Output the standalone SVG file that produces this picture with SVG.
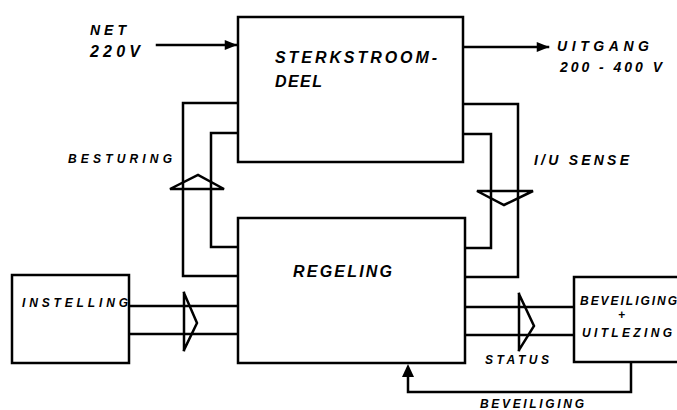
<svg xmlns="http://www.w3.org/2000/svg" width="677" height="410" viewBox="0 0 677 410">
<defs>
<style>
.ln{fill:none;stroke:#000;stroke-width:2.5;stroke-linejoin:miter;stroke-linecap:square}
.box{fill:#fff;stroke:#000;stroke-width:2.5}
.t{font-family:"Liberation Sans",Arial,sans-serif;font-weight:bold;font-style:italic;fill:#000}
.s{font-size:12px}
.m{font-size:14px}
.b{font-size:16px}
</style>
<marker id="ah" viewBox="0 0 10 10" refX="9" refY="5" markerWidth="7" markerHeight="5" orient="auto" markerUnits="strokeWidth">
<path d="M0,1 L10,5 L0,9 z" fill="#000"/>
</marker>
</defs>
<rect width="677" height="410" fill="#fff"/>
<g id="connectors">
<path class="ln" d="M157,45 H236" marker-end="url(#ah)"/>
<path class="ln" d="M463,47 H548" marker-end="url(#ah)"/>
<path class="ln" d="M238,103 H183 V276 H238"/>
<path class="ln" d="M238,133 H211 V247 H238"/>
<path class="ln" d="M463,104 H518 V277 H465"/>
<path class="ln" d="M463,134 H491 V248 H465"/>
<path class="ln" d="M170,189 L198,175 L224,189 Z"/>
<path class="ln" d="M477,191 L533,191 L504,205 Z"/>
<path class="ln" d="M129,306 H238 M129,334 H238"/>
<path class="ln" d="M184,293 V350 M184,293 L197,323 L184,350"/>
<path class="ln" d="M465,307 H574 M465,335 H574"/>
<path class="ln" d="M519,294 V350 M519,294 L534,326 L519,350"/>
<path class="ln" d="M631,362 V392 H408 V370"/>
<path d="M408,364 L402,377 L414,377 Z" fill="#000"/>
</g>
<g id="sterkstroomdeel">
<rect class="box" x="238" y="17" width="225" height="145"/>
<text class="t b" x="275" y="63" textLength="162" lengthAdjust="spacing">STERKSTROOM-</text>
<text class="t b" x="275" y="87" textLength="47" lengthAdjust="spacing">DEEL</text>
</g>
<g id="regeling">
<rect class="box" x="238" y="218" width="227" height="145"/>
<text class="t b" x="293" y="277" textLength="99" lengthAdjust="spacing">REGELING</text>
</g>
<g id="instelling">
<rect class="box" x="12" y="275" width="117" height="88"/>
<text class="t s" x="22" y="307" textLength="106" lengthAdjust="spacing">INSTELLING</text>
</g>
<g id="beveiliging">
<rect class="box" x="574" y="277" width="110" height="85"/>
<text class="t s" x="580" y="305" textLength="97" lengthAdjust="spacing">BEVEILIGING</text>
<text class="t s" x="618" y="319">+</text>
<text class="t s" x="582" y="337" textLength="90" lengthAdjust="spacing">UITLEZING</text>
</g>
<g id="labels">
<text class="t m" x="90" y="35" textLength="36" lengthAdjust="spacing">NET</text>
<text class="t b" x="90" y="57" textLength="50" lengthAdjust="spacing">220V</text>
<text class="t m" x="557" y="51" textLength="92" lengthAdjust="spacing">UITGANG</text>
<text class="t m" x="560" y="72" textLength="102" lengthAdjust="spacing">200 - 400 V</text>
<text class="t s" x="68" y="163" textLength="104" lengthAdjust="spacing">BESTURING</text>
<text class="t m" x="534" y="165" textLength="95" lengthAdjust="spacing">I/U SENSE</text>
<text class="t s" x="485" y="364" textLength="64" lengthAdjust="spacing">STATUS</text>
<text class="t s" x="480" y="408" textLength="104" lengthAdjust="spacing">BEVEILIGING</text>
</g>
</svg>
